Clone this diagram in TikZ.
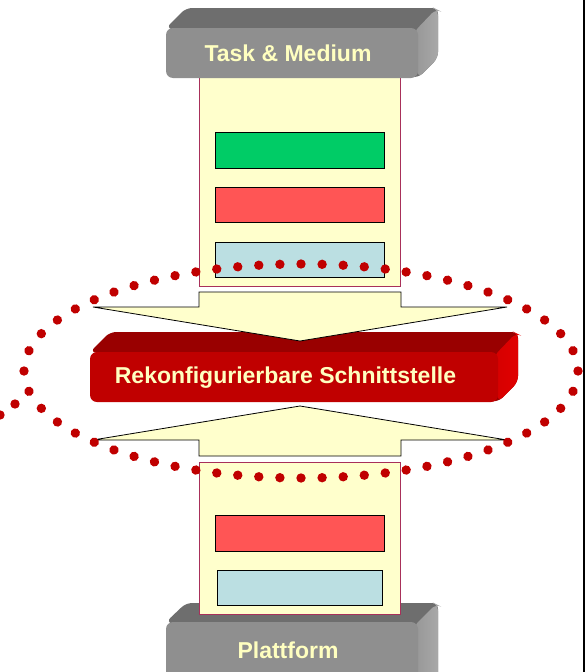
\documentclass[tikz,border=0pt]{standalone}
\usepackage{fontspec}
\setmainfont{Liberation Sans}
\usetikzlibrary{decorations.markings}
\definecolor{colfill}{HTML}{FFFFCC}
\definecolor{colrim}{HTML}{A8305A}
\definecolor{boxgreen}{HTML}{00CC66}
\definecolor{boxred}{HTML}{FF5555}
\definecolor{boxblue}{HTML}{BBDFE2}
\definecolor{grayfront}{HTML}{8F8F8F}
\definecolor{graytop}{HTML}{6E6E6E}
\definecolor{grayside}{HTML}{A8A8A8}
\definecolor{redfront}{HTML}{C00000}
\definecolor{redtop}{HTML}{990000}
\definecolor{redside}{HTML}{E00000}
\definecolor{labeltext}{HTML}{FFFFC0}
\definecolor{dotred}{HTML}{C00000}
\begin{document}
\begin{tikzpicture}[x=1pt,y=-1pt,
  column/.style={draw=colrim, line width=0.8pt, fill=colfill},
  slot/.style={draw=black, line width=0.8pt},
  facefront/.style={rounded corners=7pt, inner sep=0pt, font=\fontsize{23}{27}\selectfont\bfseries, text=labeltext},
  arrowbody/.style={draw=black, line width=0.8pt, fill=colfill, line join=miter},
  dotrow/.style={decoration={markings, mark=between positions 0 and 0.999 step 21.1pt with {\fill[dotred] (0,0) circle [radius=4.7pt];}}, decorate}
]
\useasboundingbox (0,0) rectangle (588,672);
\clip (0,0) rectangle (588,672);

% upper column with its three slots
\draw[column] (199,70) rectangle (400,286);
\draw[slot, fill=boxgreen] (215,132) rectangle (384,168);
\draw[slot, fill=boxred] (215,187) rectangle (384,222);
\draw[slot, fill=boxblue] (215,242) rectangle (384,277);

% upper grey block
\fill[graytop, rounded corners=6pt] (166,28) -- (186,8) -- (438,8) -- (438,58) -- (418,78) -- cycle;
\shade[left color=grayside!70!graytop, right color=grayside, rounded corners=6pt] (414,32) -- (436,9) -- (438,10) -- (438,58) -- (418,78) -- cycle;
\node[facefront, fill=grayfront, minimum width=252pt, minimum height=50pt] (task) at (292,53) {};
\node[font=\fontsize{23}{27}\selectfont\bfseries, text=labeltext, inner sep=0pt] (tasklabel) at (288,53) {Task \& Medium};

% lower grey block
\fill[graytop, rounded corners=6pt] (166,622) -- (186,603) -- (438,603) -- (438,690) -- (418,690) -- cycle;
\shade[left color=grayside!70!graytop, right color=grayside, rounded corners=6pt] (414,626) -- (436,604) -- (438,605) -- (438,690) -- (418,690) -- cycle;
\node[facefront, fill=grayfront, minimum width=252pt, minimum height=70pt] (platform) at (292,657) {};
\node[font=\fontsize{23}{27}\selectfont\bfseries, text=labeltext, inner sep=0pt] (platformlabel) at (288,650) {Plattform};

% lower column with its two slots
\draw[column] (199,462) rectangle (400,614);
\draw[slot, fill=boxred] (215,515) rectangle (384,551);
\draw[slot, fill=boxblue] (217,570) rectangle (382,605);

% red interface bar
\fill[redtop, rounded corners=6pt] (90,352) -- (110,332) -- (518,332) -- (518,382) -- (498,402) -- cycle;
\shade[left color=redside!85!redtop, right color=redside, rounded corners=6pt] (494,356) -- (516,333) -- (518,334) -- (518,382) -- (498,402) -- cycle;
\node[facefront, fill=redfront, minimum width=408pt, minimum height=50pt] (bar) at (294,377) {};
\node[font=\fontsize{23}{27}\selectfont\bfseries, text=labeltext, inner sep=0pt] (barlabel) at (285.5,378) {Rekonfigurierbare Schnittstelle};

% arrows into the bar
\draw[arrowbody] (199,292) -- (401,292) -- (401,307) -- (507,307) -- (300,341) -- (93,307) -- (199,307) -- cycle;
\draw[arrowbody] (199,456) -- (401,456) -- (401,440) -- (507,440) -- (300,406) -- (93,440) -- (199,440) -- cycle;

% dotted boundary round the interface
\path[dotrow] (301,371) ellipse [x radius=277pt, y radius=107pt];
\fill[dotred] (15,404) circle [radius=4.7pt];
\fill[dotred] (0,415) circle [radius=4.7pt];

% frame line at the right edge
\draw[black, line width=2pt] (584,0) -- (584,672);
\end{tikzpicture}
\end{document}
